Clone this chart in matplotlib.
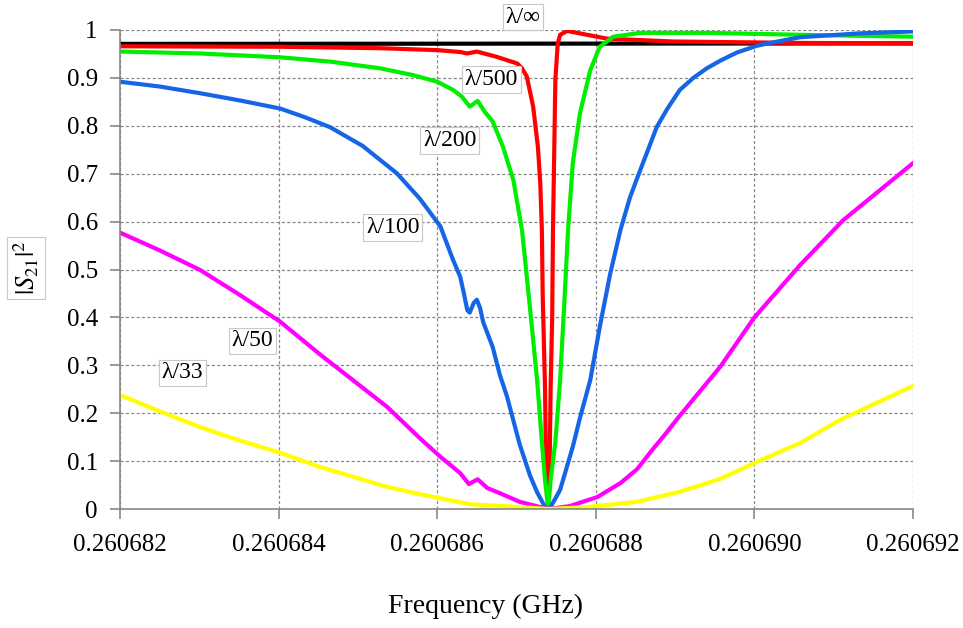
import matplotlib
matplotlib.use("Agg")
import matplotlib.pyplot as plt

plt.rcParams['font.family'] = ['Liberation Serif', 'DejaVu Serif']
plt.rcParams['mathtext.fontset'] = 'stix'

# frequency axis (GHz) and |S21|^2 values
x_inf = [0.260682, 0.260692]
y_inf = [0.971, 0.972]

x_500 = [0.260682, 0.26068402, 0.26068528, 0.26068600, 0.26068629, 0.26068638,
         0.26068650, 0.26068675, 0.26068701, 0.26068707, 0.26068713, 0.26068721,
         0.26068727, 0.26068730, 0.26068732, 0.26068733, 0.26068736, 0.26068737,
         0.26068740, 0.26068742, 0.26068743, 0.26068745, 0.26068746, 0.26068749,
         0.26068752, 0.26068755, 0.26068764, 0.26068814, 0.26068897, 0.26069058,
         0.260692]
y_500 = [0.966, 0.965, 0.962, 0.958, 0.954, 0.951,
         0.955, 0.944, 0.930, 0.920, 0.903, 0.84,
         0.756, 0.68, 0.582, 0.45, 0.25, 0.12,
         0.01, 0.12, 0.25, 0.40, 0.582, 0.896,
         0.972, 0.99, 0.998, 0.982, 0.976, 0.973,
         0.972]

x_200 = [0.260682, 0.26068301, 0.26068402, 0.26068465, 0.26068528, 0.26068569,
         0.26068600, 0.26068620, 0.26068631, 0.26068641, 0.26068651, 0.26068660,
         0.26068670, 0.26068683, 0.26068696, 0.26068707, 0.26068717, 0.26068726,
         0.26068732, 0.26068736, 0.26068740, 0.26068743, 0.26068749, 0.26068755,
         0.26068760, 0.26068765, 0.26068771, 0.26068780, 0.26068793, 0.26068805,
         0.26068822, 0.26068856, 0.26068940, 0.26069058, 0.260692]
y_200 = [0.955, 0.951, 0.943, 0.934, 0.920, 0.906,
         0.892, 0.875, 0.861, 0.840, 0.852, 0.829,
         0.809, 0.756, 0.687, 0.582, 0.42, 0.269,
         0.14, 0.06, 0.0, 0.06, 0.14, 0.269,
         0.42, 0.582, 0.722, 0.826, 0.916, 0.965,
         0.986, 0.994, 0.994, 0.990, 0.986]

x_100 = [0.260682, 0.26068250, 0.26068301, 0.26068351, 0.26068402, 0.26068433,
         0.26068465, 0.26068506, 0.26068549, 0.26068578, 0.26068604, 0.26068620,
         0.26068629, 0.26068633, 0.26068638, 0.26068641, 0.26068646, 0.26068650,
         0.26068654, 0.26068658, 0.26068670, 0.26068679, 0.26068688, 0.26068704,
         0.26068717, 0.26068726, 0.26068736, 0.26068740, 0.26068743, 0.26068755,
         0.26068771, 0.26068780, 0.26068793, 0.26068805, 0.26068818, 0.26068831,
         0.26068843, 0.26068852, 0.26068877, 0.26068890, 0.26068906, 0.26068923,
         0.26068940, 0.26068957, 0.26068978, 0.26069003, 0.26069023, 0.26069058,
         0.26069133, 0.260692]
y_100 = [0.892, 0.882, 0.868, 0.853, 0.836, 0.818,
         0.797, 0.758, 0.701, 0.648, 0.59, 0.52,
         0.485, 0.455, 0.415, 0.41, 0.43, 0.437,
         0.42, 0.39, 0.338, 0.28, 0.235, 0.135,
         0.07, 0.035, 0.004, 0.0, 0.004, 0.04,
         0.13, 0.19, 0.269, 0.38, 0.49, 0.582,
         0.65, 0.69, 0.798, 0.835, 0.875, 0.90,
         0.920, 0.936, 0.953, 0.967, 0.974, 0.985,
         0.993, 0.997]

x_50 = [0.260682, 0.26068250, 0.26068301, 0.26068351, 0.26068402, 0.26068452,
        0.26068537, 0.26068578, 0.26068604, 0.26068629, 0.26068640, 0.26068651,
        0.26068663, 0.26068679, 0.26068704, 0.26068730, 0.26068740, 0.26068767,
        0.26068802, 0.26068831, 0.26068852, 0.26068872, 0.26068887, 0.26068906,
        0.26068931, 0.26068957, 0.2606900, 0.26069058, 0.26069112, 0.260692]
y_50 = [0.577, 0.54, 0.499, 0.447, 0.391, 0.323,
        0.213, 0.148, 0.109, 0.075, 0.052, 0.062,
        0.044, 0.033, 0.015, 0.004, 0.0, 0.006,
        0.025, 0.054, 0.083, 0.125, 0.155, 0.195,
        0.245, 0.297, 0.40, 0.51, 0.603, 0.722]

x_33 = [0.260682, 0.26068250, 0.26068301, 0.26068351, 0.26068399, 0.26068452,
        0.26068537, 0.26068578, 0.26068641, 0.26068704, 0.26068740, 0.26068789,
        0.26068852, 0.26068906, 0.26068957, 0.2606900, 0.26069058, 0.26069108,
        0.260692]
y_33 = [0.238, 0.204, 0.171, 0.143, 0.119, 0.088,
        0.046, 0.031, 0.010, 0.004, 0.0, 0.004,
        0.015, 0.036, 0.063, 0.096, 0.138, 0.186,
        0.257]

labels = ['λ/∞', 'λ/500', 'λ/200', 'λ/100', 'λ/50', 'λ/33']
label_x = [0.26068708, 0.26068668, 0.26068616, 0.26068544, 0.26068367, 0.26068279]
label_y = [1.027, 0.896, 0.770, 0.587, 0.351, 0.284]

xticks = [0.260682, 0.260684, 0.260686, 0.260688, 0.260690, 0.260692]
xtick_labels = ['0.260682', '0.260684', '0.260686', '0.260688', '0.260690', '0.260692']
yticks = [0, 0.1, 0.2, 0.3, 0.4, 0.5, 0.6, 0.7, 0.8, 0.9, 1.0]
ytick_labels = ['0', '0.1', '0.2', '0.3', '0.4', '0.5', '0.6', '0.7', '0.8', '0.9', '1']

fig = plt.figure(figsize=(9.63, 6.28), dpi=100)
ax = fig.add_axes([120 / 963, 119 / 628, 793 / 963, 479 / 628])

lw = 3.0
ax.plot(x_inf, y_inf, color='black', lw=lw)
ax.plot(x_500, y_500, color='#ff0000', lw=lw, solid_joinstyle='round')
ax.plot(x_200, y_200, color='#00ee00', lw=lw, solid_joinstyle='round')
ax.plot(x_100, y_100, color='#1466e6', lw=lw, solid_joinstyle='round')
ax.plot(x_50, y_50, color='#ff00ff', lw=lw, solid_joinstyle='round')
ax.plot(x_33, y_33, color='#ffff00', lw=lw, solid_joinstyle='round')

ax.set_xlim(0.260682, 0.260692)
ax.set_ylim(0, 1)
ax.set_xticks(xticks)
ax.set_xticklabels(xtick_labels)
ax.set_yticks(yticks)
ax.set_yticklabels(ytick_labels)
ax.tick_params(axis='both', labelsize=18, color='#888888', length=7, width=1.2)
ax.tick_params(axis='x', pad=11)
ax.tick_params(axis='y', pad=9)

ax.grid(True, color='#888888', linestyle=(0, (2.5, 1.8)), linewidth=0.9)
ax.set_axisbelow(True)
for side in ['top', 'right']:
    ax.spines[side].set_visible(False)
for side in ['left', 'bottom']:
    ax.spines[side].set_color('#888888')
    ax.spines[side].set_linewidth(1.2)

for t, lx, ly in zip(labels, label_x, label_y):
    ax.text(lx, ly, t, fontsize=17, ha='center', va='center', clip_on=False,
            bbox=dict(boxstyle='square,pad=0.12', fc='white', ec='#c8c8c8', lw=0.8))

fig.text(26 / 963, 1 - 268 / 628, r'$|S_{21}|^2$', fontsize=19, rotation=90,
         ha='center', va='center',
         bbox=dict(boxstyle='square,pad=0.15', fc='white', ec='#c8c8c8', lw=0.8))
fig.text(486 / 963, 1 - 606 / 628, 'Frequency (GHz)', fontsize=20,
         ha='center', va='center')

fig.savefig('out.png', dpi=100)
